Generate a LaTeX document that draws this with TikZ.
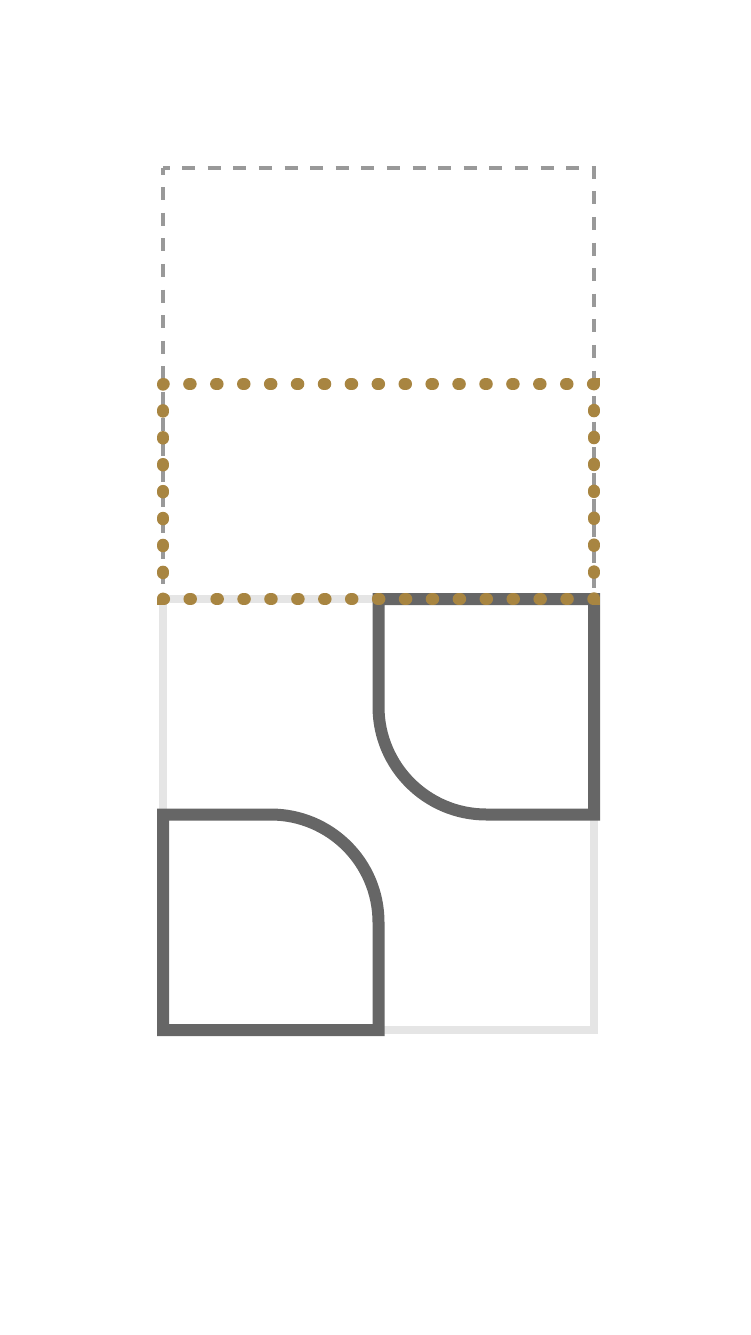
\documentclass[tikz,border=0pt]{standalone}
\definecolor{dashgray}{HTML}{999999}
\definecolor{lightgray}{HTML}{E5E5E5}
\definecolor{darkgray}{HTML}{666666}
\definecolor{gold}{HTML}{A88541}
\tikzset{
  dashedframe/.style={draw=dashgray, line width=4pt, dash pattern=on 13pt off 12.6pt, dash phase=6.5pt},
  lightframe/.style={draw=lightgray, line width=8pt},
  darkshape/.style={draw=darkgray, line width=12pt, miter limit=10},
  dottedframe/.style={draw=gold, line width=12pt, line cap=round, dash pattern=on 1.5pt off 25.417pt, dash phase=0.75pt}
}
\begin{document}
\begin{tikzpicture}[x=1pt,y=1pt]
\useasboundingbox (0,0) rectangle (751,-1335);
% dashed gray frame
\draw[dashedframe] (163,-168) -- (594,-168) -- (594,-599);
\draw[dashedframe] (163,-168) -- (163,-599) -- (594,-599);
% light gray square
\draw[lightframe] (163,-599) rectangle (594,-1030);
% dark shapes
\draw[darkshape] (378.5,-707.25) -- (378.5,-599) -- (594,-599) -- (594,-814.5) -- (486.25,-814.5)
  arc[start angle=270,end angle=180,radius=107.75] -- cycle;
\draw[darkshape] (163,-814.5) -- (270.75,-814.5) arc[start angle=90,end angle=0,radius=107.75]
  -- (378.5,-1030) -- (163,-1030) -- cycle;
% dotted gold frame
\draw[dottedframe] (163,-384) -- (594,-384) -- (594,-599) -- (163,-599) -- cycle;
\end{tikzpicture}
\end{document}
